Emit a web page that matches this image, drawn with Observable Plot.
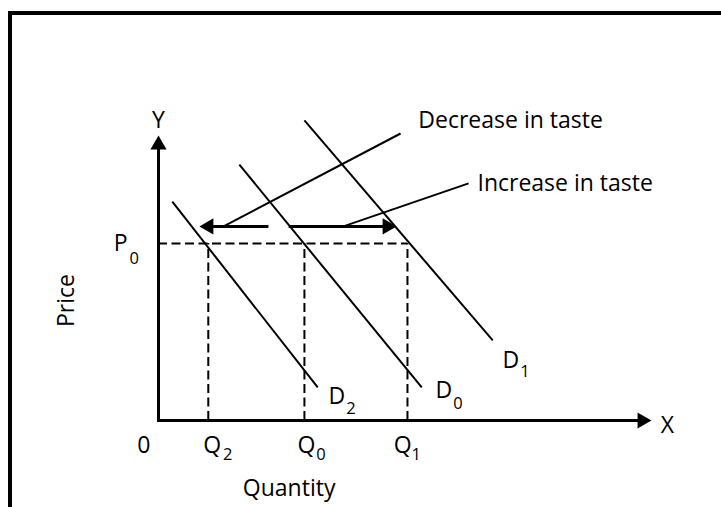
<!DOCTYPE html>
<html><head><meta charset="utf-8">
<script src="https://cdn.jsdelivr.net/npm/d3@7"></script>
<script src="https://cdn.jsdelivr.net/npm/@observablehq/plot@0.6"></script>
<style>
html,body{margin:0;padding:0;background:#fff;overflow:hidden;}
#wrap{position:relative;width:721px;height:507px;overflow:hidden;}
#frame{position:absolute;left:8px;top:11px;width:800px;height:600px;border-top:4px solid #000;border-left:4px solid #000;box-sizing:border-box;}
#chart{position:absolute;left:0;top:0;}
</style></head><body>
<div id="wrap"><div id="frame"></div><div id="chart"></div></div>
<script>
// ---- data (quantity / price units, axes run 0..100) ----
const origin = 0;
const axisMax = 100;
const p0 = 62.1;                       // price P0
const qNames = ["Q2", "Q0", "Q1"];
const qValues = [10.1, 29.6, 50.5];    // quantities at P0

const demandNames = ["D2", "D0", "D1"];
const demandX1 = [2.8, 16.4, 29.6];
const demandY1 = [76.8, 89.8, 105.3];
const demandX2 = [32.3, 53.4, 67.8];
const demandY2 = [11.6, 11.6, 28.1];

const shiftNames = ["Decrease in taste", "Increase in taste"];
const shiftFrom = [22.3, 26.4];
const shiftTo = [8.3, 48.3];
const shiftY = 68.1;
const pointerFrom = [13.2, 37.5];
const pointerToX = [49.1, 62.9];
const pointerToY = [100.7, 83.2];
const calloutX = [52.7, 64.7];
const calloutY = [105.3, 83.2];

const letterText = ["P", "Q", "Q", "Q", "D", "D", "D"];
const letterX = [-9.1, 9.1, 28.2, 47.7, 34.5, 56.2, 69.8];
const letterY = [62.1, -8.8, -8.8, -8.8, 8.4, 10.5, 21.1];
const subText = ["0", "2", "0", "1", "2", "0", "1"];
const subX = [-5.9, 13.1, 32.0, 51.3, 38.1, 59.8, 73.4];
const subY = [56.8, -12.0, -12.0, -12.0, 4.0, 5.9, 17.0];

const axisNames = ["Y", "X"];
const axisNameX = [0, 103.2];
const axisNameY = [105.3, -1.75];
const zeroLabel = {t: "0", x: -3.0, y: -8.8};
const xTitle = {t: "Quantity", x: 26.5, y: -23.9};
const yTitle = {t: "Price", x: -18.7, y: 42.1};

// ---- tables ----
const demand = demandNames.map((n, i) => ({n, x1: demandX1[i], y1: demandY1[i], x2: demandX2[i], y2: demandY2[i]}));
const shifts = shiftNames.map((n, i) => ({n, from: shiftFrom[i], to: shiftTo[i], px: pointerFrom[i], tx: pointerToX[i], ty: pointerToY[i], cx: calloutX[i], cy: calloutY[i], dir: shiftTo[i] < shiftFrom[i] ? -1 : 1}));
const axes = [
  {x1: origin, y1: origin, x2: origin, y2: axisMax, rot: 0, dx: 0, dy: 9.3},
  {x1: origin, y1: origin, x2: axisMax, y2: origin, rot: 90, dx: -9.3, dy: 0}
];
const letters = letterText.map((t, i) => ({t, x: letterX[i], y: letterY[i], s: subText[i], sx: subX[i], sy: subY[i]}));
const axisLabels = axisNames.map((t, i) => ({t, x: axisNameX[i], y: axisNameY[i]}));

const font = "'Open Sans', sans-serif";
const dash = "9,4.5";

const chart = Plot.plot({
  width: 721, height: 507, margin: 0,
  x: {domain: [0, 100], range: [158, 651], axis: null},
  y: {domain: [0, 100], range: [420, 135], axis: null},
  style: {background: "transparent", fontFamily: font, color: "#000"},
  marks: [
    // dashed guides
    Plot.ruleY([p0], {x1: origin, x2: qValues[2], stroke: "#000", strokeWidth: 2, strokeDasharray: dash}),
    Plot.ruleX(qValues, {y1: origin, y2: p0, stroke: "#000", strokeWidth: 2, strokeDasharray: dash}),
    // demand curves
    Plot.link(demand, {x1: "x1", y1: "y1", x2: "x2", y2: "y2", stroke: "#000", strokeWidth: 2}),
    // callout pointers
    Plot.link(shifts, {x1: "px", y1: () => shiftY, x2: "tx", y2: "ty", stroke: "#000", strokeWidth: 2}),
    // shift arrows
    Plot.arrow(shifts, {x1: "from", y1: () => shiftY, x2: "to", y2: () => shiftY, stroke: "#000", strokeWidth: 3, headLength: 0, insetEnd: 6, strokeLinecap: "butt"}),
    Plot.dot(shifts, {x: "to", y: () => shiftY, symbol: "triangle", r: 6, fill: "#000", rotate: d => d.dir * 90}),
    // axes
    Plot.arrow(axes, {x1: "x1", y1: "y1", x2: "x2", y2: "y2", stroke: "#000", strokeWidth: 3, headLength: 0, insetEnd: 6, strokeLinecap: "square"}),
    Plot.dot(axes, {x: "x2", y: "y2", symbol: "triangle", r: 6, fill: "#000", rotate: "rot"}),
    // texts
    Plot.text(shifts, {x: "cx", y: "cy", text: "n", textAnchor: "start", fontSize: 23, fill: "#000"}),
    Plot.text(axisLabels, {x: "x", y: "y", text: "t", fontSize: 23, fill: "#000"}),
    Plot.text([zeroLabel, xTitle], {x: "x", y: "y", text: "t", fontSize: 23, fill: "#000"}),
    Plot.text([yTitle], {x: "x", y: "y", text: "t", fontSize: 23, fill: "#000", rotate: -90}),
    Plot.text(letters, {x: "x", y: "y", text: "t", textAnchor: "start", fontSize: 23, fill: "#000"}),
    Plot.text(letters, {x: "sx", y: "sy", text: "s", textAnchor: "start", fontSize: 16.5, fill: "#000"})
  ]
});
document.getElementById("chart").appendChild(chart);

// offset arrowheads so their tips sit on the end points
d3.select(chart).selectAll("g[aria-label='dot']").each(function(_, gi) {
  d3.select(this).selectAll("path").each(function(d, i) {
    const t = d3.select(this).attr("transform") || "";
    let off = [0, 0];
    if (gi === 0) off = [shifts[i].dir < 0 ? 9.3 : -9.3, 0];
    else off = [axes[i].dx, axes[i].dy];
    d3.select(this).attr("transform", `translate(${off[0]},${off[1]}) ` + t);
  });
});
</script></body></html>
